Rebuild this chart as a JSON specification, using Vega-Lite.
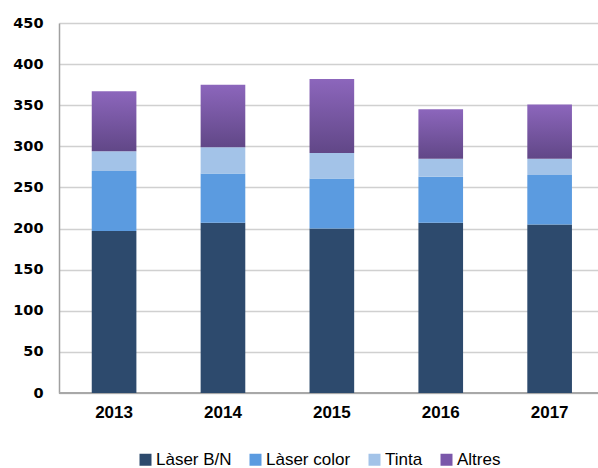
{
  "$schema": "https://vega.github.io/schema/vega-lite/v6.json",
  "width": 539,
  "height": 370,
  "autosize": {"type": "none"},
  "padding": {"left": 59, "top": 23, "right": 0, "bottom": 75},
  "background": "white",
  "config": {"view": {"stroke": null}},
  "data": {"values": [
    {"year": "2013", "type": "Làser B/N", "order": 1, "value": 197},
    {"year": "2013", "type": "Làser color", "order": 2, "value": 73},
    {"year": "2013", "type": "Tinta", "order": 3, "value": 24},
    {"year": "2013", "type": "Altres", "order": 4, "value": 73},
    {"year": "2014", "type": "Làser B/N", "order": 1, "value": 207},
    {"year": "2014", "type": "Làser color", "order": 2, "value": 60},
    {"year": "2014", "type": "Tinta", "order": 3, "value": 32},
    {"year": "2014", "type": "Altres", "order": 4, "value": 76},
    {"year": "2015", "type": "Làser B/N", "order": 1, "value": 200},
    {"year": "2015", "type": "Làser color", "order": 2, "value": 61},
    {"year": "2015", "type": "Tinta", "order": 3, "value": 31},
    {"year": "2015", "type": "Altres", "order": 4, "value": 90},
    {"year": "2016", "type": "Làser B/N", "order": 1, "value": 207},
    {"year": "2016", "type": "Làser color", "order": 2, "value": 56},
    {"year": "2016", "type": "Tinta", "order": 3, "value": 22},
    {"year": "2016", "type": "Altres", "order": 4, "value": 60},
    {"year": "2017", "type": "Làser B/N", "order": 1, "value": 205},
    {"year": "2017", "type": "Làser color", "order": 2, "value": 60},
    {"year": "2017", "type": "Tinta", "order": 3, "value": 20},
    {"year": "2017", "type": "Altres", "order": 4, "value": 66}
  ]},
  "transform": [
    {"stack": "value", "groupby": ["year"], "sort": [{"field": "order", "order": "ascending"}], "as": ["y0", "y1"]}
  ],
  "encoding": {
    "x": {
      "field": "year", "type": "nominal", "title": null,
      "scale": {"paddingInner": 0.59, "paddingOuter": 0.27, "align": 0.557},
      "axis": {
        "labelAngle": 0, "ticks": false, "domain": false, "grid": false,
        "labelFont": "Liberation Sans", "labelFontWeight": "bold", "labelFontSize": 17,
        "labelColor": "#000000", "labelPadding": 11
      }
    },
    "y": {
      "field": "y0", "type": "quantitative", "title": null,
      "scale": {"domain": [0, 450], "nice": false},
      "axis": {
        "values": [0, 50, 100, 150, 200, 250, 300, 350, 400, 450],
        "ticks": false, "domain": true, "domainColor": "#a0a0a0", "domainWidth": 1.5,
        "grid": true, "gridColor": "#d0d0d0", "gridWidth": 1.5,
        "labelFont": "DejaVu Sans", "labelFontWeight": "bold", "labelFontSize": 14.5,
        "labelColor": "#000000", "labelPadding": 16
      }
    },
    "y2": {"field": "y1"}
  },
  "layer": [
    {
      "mark": {"type": "rule", "color": "#a8a8a8", "strokeWidth": 2},
      "encoding": {"x": null, "y": {"datum": 0, "type": "quantitative"}, "y2": null}
    },
    {
      "transform": [{"filter": "datum.type !== 'Altres'"}],
      "mark": {"type": "bar"},
      "encoding": {
        "color": {
          "field": "type", "type": "nominal",
          "scale": {
            "domain": ["Làser B/N", "Làser color", "Tinta", "Altres"],
            "range": ["#2d4a6d", "#5b9be0", "#a3c3e8", "#7a57aa"]
          },
          "legend": {
            "title": null, "orient": "none", "direction": "horizontal",
            "legendX": 78, "legendY": 428,
            "symbolType": "square", "symbolSize": 144, "symbolStrokeWidth": 0,
            "labelFont": "Liberation Sans", "labelFontSize": 17, "labelColor": "#000000",
            "labelOffset": 2, "columnPadding": 15
          }
        }
      }
    },
    {
      "transform": [{"filter": "datum.type === 'Altres'"}],
      "mark": {
        "type": "bar",
        "color": {
          "gradient": "linear", "x1": 0, "y1": 0, "x2": 0, "y2": 1,
          "stops": [{"offset": 0, "color": "#8c66bc"}, {"offset": 1, "color": "#614787"}]
        }
      }
    }
  ]
}
